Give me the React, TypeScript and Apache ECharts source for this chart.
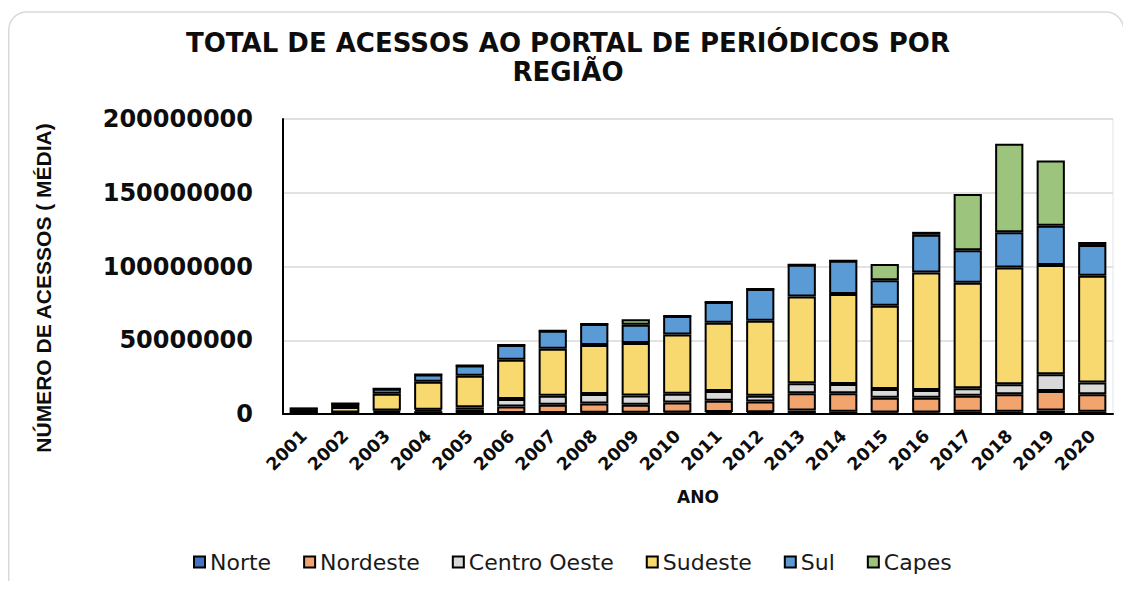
import React, { useEffect, useRef } from "react";
import * as echarts from "echarts";

const years = [
  "2001", "2002", "2003", "2004", "2005", "2006", "2007", "2008", "2009", "2010",
  "2011", "2012", "2013", "2014", "2015", "2016", "2017", "2018", "2019", "2020",
];

const norte = [
  100000, 200000, 300000, 400000, 500000, 600000, 700000, 900000, 800000, 1000000,
  1300000, 1200000, 2300000, 1600000, 1100000, 1100000, 1600000, 1600000, 2300000, 1600000,
];
const nordeste = [
  300000, 500000, 1200000, 1500000, 2400000, 4500000, 5600000, 6300000, 5400000, 6800000,
  7700000, 7200000, 11800000, 12400000, 9900000, 9900000, 10800000, 11800000, 13300000, 11800000,
];
const centroOeste = [
  300000, 400000, 800000, 1000000, 1600000, 5000000, 6100000, 6300000, 6300000, 5900000,
  6600000, 4000000, 6800000, 6300000, 5900000, 5200000, 5000000, 6800000, 11300000, 7900000,
];
const sudeste = [
  2500000, 3600000, 11500000, 19000000, 21500000, 26700000, 31900000, 33300000, 35700000, 40200000,
  46300000, 50900000, 58800000, 61000000, 56500000, 79800000, 71600000, 79100000, 74100000, 72500000,
];
const sul = [
  600000, 2400000, 3300000, 4800000, 6800000, 10000000, 12200000, 14200000, 12300000, 12500000,
  14000000, 21500000, 21500000, 22600000, 17200000, 25500000, 22100000, 24000000, 26700000, 20800000,
];
const capes = [
  0, 0, 0, 0, 0, 0, 0, 0, 3800000, 0,
  0, 0, 0, 0, 11100000, 2000000, 38000000, 59900000, 44100000, 2000000,
];

const seriesNames = ["Norte", "Nordeste", "Centro Oeste", "Sudeste", "Sul", "Capes"];
const seriesColors = ["#4472C4", "#F2A46E", "#D9D9D9", "#F8D96F", "#5B9BD5", "#9CC47C"];
const seriesData = [norte, nordeste, centroOeste, sudeste, sul, capes];

const yTicks = { min: 0, max: 200000000, interval: 50000000 };

export default function App() {
  const ref = useRef<HTMLDivElement>(null);

  useEffect(() => {
    if (!ref.current) return;
    const chart = echarts.init(ref.current, null, { renderer: "svg" });
    const boldWide = '"DejaVu Sans"';
    chart.setOption({
      animation: false,
      backgroundColor: "#ffffff",
      title: {
        text: "TOTAL DE ACESSOS AO PORTAL DE PERIÓDICOS POR\nREGIÃO",
        left: 555,
        top: 15,
        textAlign: "center",
        textStyle: {
          fontFamily: boldWide,
          fontWeight: "bold",
          fontSize: 26,
          lineHeight: 29,
          color: "#0d0d0d",
        },
      },
      graphic: [
        {
          type: "rect",
          silent: true,
          shape: { x: 0.75, y: 4, width: 1115, height: 620, r: 18 },
          style: { fill: "none", stroke: "#d9d9d9", lineWidth: 1.5 },
        },
        {
          type: "text",
          x: 35,
          y: 280,
          rotation: Math.PI / 2,
          style: {
            text: "NÚMERO DE ACESSOS ( MÉDIA)",
            fontFamily: '"Liberation Sans"',
            fontWeight: "bold",
            fontSize: 21,
            fill: "#0d0d0d",
            align: "center",
            verticalAlign: "middle",
          },
        },
      ],
      legend: {
        left: 180,
        top: 538,
        itemWidth: 11,
        itemHeight: 11,
        itemGap: 32,
        icon: "rect",
        data: seriesNames,
        textStyle: {
          fontFamily: boldWide,
          fontSize: 22,
          color: "#1a1a1a",
        },
      },
      grid: {
        left: 275,
        right: 10,
        top: 111,
        bottom: 167,
        show: true,
        borderColor: "#dfe5ee",
        borderWidth: 1,
      },
      xAxis: {
        type: "category",
        data: years,
        name: "ANO",
        nameLocation: "middle",
        nameGap: 74,
        nameTextStyle: {
          fontFamily: boldWide,
          fontWeight: "bold",
          fontSize: 17,
          color: "#0d0d0d",
        },
        axisLine: { show: true, lineStyle: { color: "#000000", width: 2 } },
        axisTick: { show: false },
        axisLabel: {
          rotate: 45,
          margin: 19,
          interval: 0,
          fontFamily: boldWide,
          fontWeight: "bold",
          fontSize: 17.5,
          color: "#0d0d0d",
        },
      },
      yAxis: {
        type: "value",
        min: yTicks.min,
        max: yTicks.max,
        interval: yTicks.interval,
        axisLine: { show: true, lineStyle: { color: "#000000", width: 2 } },
        axisTick: { show: false },
        axisLabel: {
          margin: 30,
          formatter: (v: number) => String(v),
          fontFamily: boldWide,
          fontWeight: "bold",
          fontSize: 24,
          color: "#0d0d0d",
        },
        splitLine: { show: true, lineStyle: { color: "#d9d9d9", width: 1.5 } },
      },
      series: seriesNames.map((name, i) => ({
        name,
        type: "bar",
        stack: "total",
        barCategoryGap: "32%",
        data: seriesData[i],
        itemStyle: {
          color: seriesColors[i],
          borderColor: "#000000",
          borderWidth: 2,
        },
      })),
    });
    return () => chart.dispose();
  }, []);

  return <div ref={ref} style={{ width: 1115, height: 573 }} />;
}
